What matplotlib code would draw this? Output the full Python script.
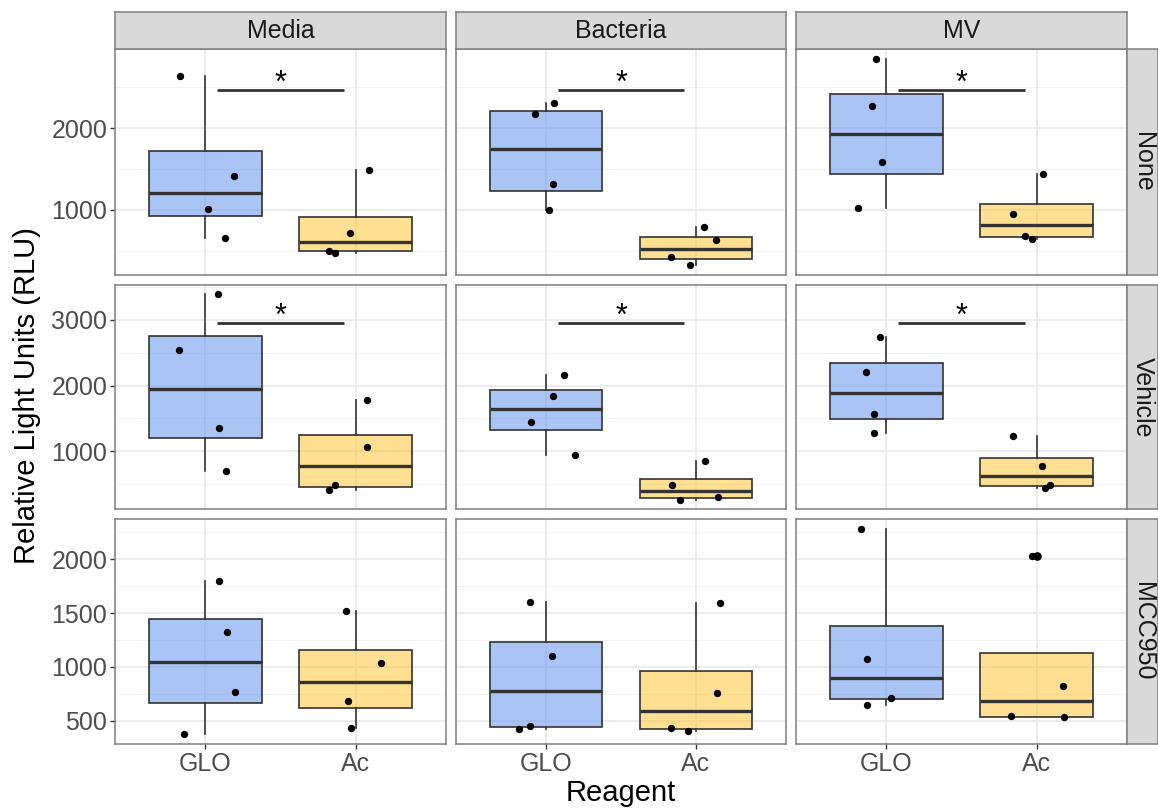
import matplotlib
matplotlib.use("Agg")
import matplotlib.pyplot as plt
import numpy as np

# ---------------- data ----------------
treatments = ["None", "Vehicle", "MCC950"]          # facet rows
stimuli = ["Media", "Bacteria", "MV"]              # facet columns
reagents = ["GLO", "Ac"]                           # x categories

# values per row: one list per column (Media, Bacteria, MV)
none_glo = [[2640, 1416, 1008, 661], [2313, 2175, 1315, 1000], [2845, 2277, 1584, 1024]]
none_ac = [[1486, 716, 501, 474], [796, 633, 421, 327], [1441, 947, 682, 641]]
vehicle_glo = [[3397, 2542, 1356, 700], [2160, 1845, 1448, 939], [2746, 2202, 1560, 1270]]
vehicle_ac = [[1774, 1066, 476, 405], [843, 481, 257, 293], [1234, 771, 440, 481]]
mcc_glo = [[1801, 1321, 763, 372], [1606, 1101, 452, 421], [2282, 1075, 713, 648]]
mcc_ac = [[1516, 1033, 682, 428], [1593, 753, 428, 403], [2031, 824, 540, 530]]

# horizontal jitter of the points
none_glo_dx = [[-0.17, 0.19, 0.02, 0.13], [0.05, -0.075, 0.045, 0.02], [-0.066, -0.096, -0.03, -0.186]]
none_ac_dx = [[0.09, -0.04, -0.18, -0.14], [0.054, 0.13, -0.165, -0.04], [0.042, -0.16, -0.08, -0.03]]
vehicle_glo_dx = [[0.084, -0.175, 0.09, 0.14], [0.123, 0.045, -0.1, 0.19], [-0.045, -0.135, -0.08, -0.084]]
vehicle_ac_dx = [[0.077, 0.073, -0.14, -0.177], [0.06, -0.16, -0.11, 0.147], [-0.156, 0.036, 0.057, 0.087]]
mcc_glo_dx = [[0.088, 0.144, 0.195, -0.142], [-0.11, 0.04, -0.11, -0.18], [-0.165, -0.13, 0.03, -0.13]]
mcc_ac_dx = [[-0.066, 0.168, -0.05, -0.033], [0.16, 0.14, -0.165, -0.054], [-0.03, 0.177, -0.17, 0.18]]

glo_rows = [none_glo, vehicle_glo, mcc_glo]
ac_rows = [none_ac, vehicle_ac, mcc_ac]
glo_dx_rows = [none_glo_dx, vehicle_glo_dx, mcc_glo_dx]
ac_dx_rows = [none_ac_dx, vehicle_ac_dx, mcc_ac_dx]

# significance bars (row index -> y of bar); MCC950 row has none
sig_y = [2470, 2960, None]
sig_label = "*"

row_ylim = [(204, 2970), (115, 3534), (282, 2375)]
row_major = [[1000, 2000], [1000, 2000, 3000], [500, 1000, 1500, 2000]]
row_minor = [[500, 1500, 2500], [500, 1500, 2500, 3500], [250, 750, 1250, 1750, 2250]]

# ---------------- style ----------------
plt.rcParams['font.family'] = ['Liberation Sans', 'DejaVu Sans']
W, H = 1158, 810
fig = plt.figure(figsize=(W / 100, H / 100), dpi=100)
fig.patch.set_facecolor('white')

def rect(x0, y0, x1, y1):
    return [x0 / W, 1 - y1 / H, (x1 - x0) / W, (y1 - y0) / H]

cols_px = [(115, 446), (456, 786), (796, 1127)]
rows_px = [(49, 275), (285, 509), (519, 744)]
strip_top = (12, 49)
strip_right = (1127, 1158)

blue = (100 / 255, 149 / 255, 237 / 255, 0.55)
yellow = (255 / 255, 193 / 255, 37 / 255, 0.5)
edge = '#333333'
border = '#7f7f7f'
grid_major = '#ebebeb'
grid_minor = '#f3f3f3'
tick_col = '#4d4d4d'
tick_fs = 18
strip_fs = 18
title_fs = 21

for r in range(3):
    for c in range(3):
        x0, x1 = cols_px[c]
        y0, y1 = rows_px[r]
        ax = fig.add_axes(rect(x0, y0, x1, y1))
        ax.set_xlim(0.4, 2.6)
        ax.set_ylim(*row_ylim[r])
        ax.set_facecolor('white')
        for s in ax.spines.values():
            s.set_color(border)
            s.set_linewidth(1.1)
        # grid
        for v in row_minor[r]:
            ax.axhline(v, color=grid_minor, lw=0.8, zorder=0)
        for v in row_major[r]:
            ax.axhline(v, color=grid_major, lw=1.3, zorder=0)
        for xv in [1, 2]:
            ax.axvline(xv, color=grid_major, lw=1.3, zorder=0)

        g = glo_rows[r][c]
        a = ac_rows[r][c]
        bp = ax.boxplot([g, a], positions=[1, 2], widths=0.75, patch_artist=True,
                        showcaps=False, whis=1.5,
                        boxprops=dict(edgecolor=edge, linewidth=1.2),
                        whiskerprops=dict(color=edge, linewidth=1.2),
                        medianprops=dict(color=edge, linewidth=2.4),
                        flierprops=dict(marker='o', markerfacecolor='black',
                                        markeredgecolor='black', markersize=5.2),
                        zorder=2)
        bp['boxes'][0].set_facecolor(blue)
        bp['boxes'][1].set_facecolor(yellow)

        gx = 1 + np.array(glo_dx_rows[r][c])
        axx = 2 + np.array(ac_dx_rows[r][c])
        ax.scatter(gx, g, s=28, color='black', zorder=4, linewidths=0)
        ax.scatter(axx, a, s=28, color='black', zorder=4, linewidths=0)

        if sig_y[r] is not None:
            ax.plot([1.08, 1.92], [sig_y[r], sig_y[r]], color=edge, lw=2.0, zorder=3,
                    solid_capstyle='butt')
            ax.annotate(sig_label, xy=(1.5, sig_y[r]), xytext=(0, -1.3),
                        textcoords='offset points', ha='center', va='baseline',
                        fontsize=22, color='black')

        ax.set_xticks([1, 2])
        ax.set_yticks(row_major[r])
        ax.tick_params(axis='both', color=edge, length=3.5, width=1.0,
                       labelsize=tick_fs, labelcolor=tick_col, pad=2)
        if r == 2:
            ax.set_xticklabels(reagents)
        else:
            ax.set_xticklabels([])
            ax.tick_params(axis='x', length=0)
        if c == 0:
            ax.set_yticklabels([str(v) for v in row_major[r]])
        else:
            ax.set_yticklabels([])
            ax.tick_params(axis='y', length=0)

# top strips
for c in range(3):
    x0, x1 = cols_px[c]
    sax = fig.add_axes(rect(x0, strip_top[0], x1, strip_top[1]))
    sax.set_facecolor('#d9d9d9')
    sax.set_xticks([]); sax.set_yticks([])
    for s in sax.spines.values():
        s.set_color(border); s.set_linewidth(1.1)
    sax.text(0.5, 0.5, stimuli[c], ha='center', va='center', fontsize=strip_fs,
             color='#1a1a1a', transform=sax.transAxes)

# right strips
for r in range(3):
    y0, y1 = rows_px[r]
    sax = fig.add_axes(rect(strip_right[0], y0, strip_right[1], y1))
    sax.set_facecolor('#d9d9d9')
    sax.set_xticks([]); sax.set_yticks([])
    for s in sax.spines.values():
        s.set_color(border); s.set_linewidth(1.1)
    sax.text(0.5, 0.5, treatments[r], ha='center', va='center', fontsize=strip_fs,
             color='#1a1a1a', rotation=-90, transform=sax.transAxes)

# axis titles
fig.text(27 / W, 1 - 396 / H, "Relative Light Units (RLU)", rotation=90,
         ha='center', va='center', fontsize=title_fs, color='black')
fig.text(621 / W, 1 - 793 / H, "Reagent", ha='center', va='center',
         fontsize=title_fs, color='black')

fig.savefig("out.png", dpi=100, facecolor='white')
